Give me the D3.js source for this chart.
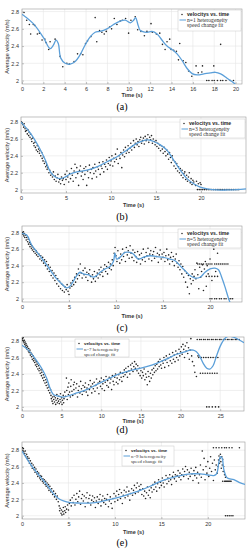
<!DOCTYPE html>
<html>
<head>
<meta charset="utf-8">
<script src="https://d3js.org/d3.v7.min.js"></script>
<style>
  body { margin: 0; background: #fff; }
</style>
</head>
<body>
<svg id="fig" width="251" height="550" font-family="Liberation Sans, Arial, sans-serif"></svg>
<script>
// ---- data ----
var captions = ["(a)", "(b)", "(c)", "(d)", "(e)"];
var fitNames = ["n=1 heterogeneity", "n=3 heterogeneity", "n=5 heterogeneity", "n=7 heterogeneity", "n=9 heterogeneity"];
var yTicks = [2, 2.2, 2.4, 2.6, 2.8];
var xTicksA = [0, 2, 4, 6, 8, 10, 12, 14, 16, 18, 20];
var xTicksB = [0, 5, 10, 15, 20];
var xTicksD = [0, 5, 10, 15, 20, 25];

var scatterA = [[0.19,2.79],[0.44,2.70],[0.69,2.65],[0.81,2.54],[1.06,2.65],[1.19,2.64],[1.44,2.54],[1.63,2.55],[1.88,2.47],[2.13,2.48],[2.25,2.44],[2.5,2.36],[2.63,2.45],[3.1,2.48],[3.57,2.28],[3.82,2.16],[4.2,2.20],[4.44,2.19],[4.88,2.22],[5.2,2.31],[5.5,2.31],[5.7,2.30],[5.95,2.43],[6.13,2.46],[6.45,2.51],[6.85,2.73],[7.0,2.45],[7.26,2.58],[7.48,2.56],[7.7,2.54],[7.89,2.57],[8.2,2.62],[8.39,2.60],[8.64,2.72],[8.89,2.65],[9.2,2.69],[9.39,2.70],[9.7,2.72],[9.98,2.55],[10.2,2.70],[10.6,2.74],[10.83,2.59],[11.14,2.57],[11.46,2.52],[11.7,2.57],[12.08,2.66],[12.2,2.56],[12.58,2.54],[12.9,2.55],[13.15,2.42],[13.4,2.36],[13.58,2.45],[13.83,2.48],[13.96,2.36],[14.2,2.35],[14.46,2.34],[14.65,2.24],[14.77,2.43],[15.09,2.23],[15.34,2.21],[15.6,2.11],[15.9,2.05],[16.3,2.17],[16.5,2.09],[16.84,2.10],[16.9,2.17],[17.96,2.17],[18.6,2.42]];
var rowsA = [{v: 2.0, t: [17.3,17.5,17.8,18.0,18.3,18.6,18.8,19.1,19.5,19.8]}];
var fitA = [[0,2.77],[1.06,2.66],[2.0,2.5],[2.63,2.37],[2.94,2.41],[3.19,2.47],[3.4,2.43],[3.63,2.26],[4.04,2.2],[4.5,2.19],[4.98,2.22],[5.45,2.30],[5.9,2.41],[6.4,2.51],[6.85,2.56],[7.3,2.57],[7.95,2.60],[8.58,2.65],[9.2,2.69],[9.67,2.70],[10.14,2.67],[10.45,2.70],[10.64,2.73],[10.83,2.66],[11.08,2.58],[11.7,2.56],[12.17,2.57],[12.65,2.54],[13.1,2.47],[13.58,2.40],[14.05,2.36],[14.52,2.31],[15.0,2.23],[15.46,2.14],[15.93,2.08],[16.4,2.065],[17.03,2.077],[17.65,2.09],[18.12,2.096],[18.6,2.077],[19.2,2.027],[19.78,1.977],[20.1,1.94]];

var scatterB = [[0.05,2.80],[0.12,2.79],[0.2,2.77],[0.3,2.74],[0.35,2.78],[0.45,2.72],[0.5,2.69],[0.6,2.70],[0.7,2.66],[0.75,2.71],[0.85,2.64],[0.9,2.68],[1.0,2.62],[1.05,2.66],[1.15,2.60],[1.2,2.57],[1.3,2.61],[1.4,2.55],[1.45,2.52],[1.55,2.56],[1.6,2.50],[1.7,2.47],[1.8,2.52],[1.85,2.45],[1.95,2.48],[2.05,2.43],[2.1,2.46],[2.2,2.40],[2.3,2.44],[2.35,2.37],[2.45,2.34],[2.5,2.39],[2.6,2.31],[2.7,2.33],[2.75,2.27],[2.85,2.29],[2.9,2.24],[3.0,2.26],[3.1,2.20],[3.2,2.23],[3.3,2.17],[3.4,2.19],[3.5,2.15],[3.6,2.21],[3.7,2.12],[3.8,2.16],[3.9,2.10],[4.0,2.14],[4.1,2.18],[4.2,2.09],[4.3,2.12],[4.4,2.07],[4.5,2.15],[4.6,2.11],[4.7,2.13],[4.8,2.06],[4.9,2.18],
[5.0,2.12],[5.1,2.22],[5.2,2.15],[5.3,2.09],[5.4,2.19],[5.5,2.13],[5.6,2.25],[5.7,2.17],[5.8,2.10],[5.9,2.22],[6.0,2.30],[6.1,2.14],[6.2,2.26],[6.3,2.19],[6.4,2.05],[6.5,2.23],[6.6,2.28],[6.7,2.16],[6.8,2.21],[6.9,2.12],[7.0,2.25],[7.1,2.18],[7.2,2.27],[7.3,2.05],[7.4,2.22],[7.5,2.14],[7.6,2.29],[7.7,2.20],[7.8,2.24],[7.9,2.13],[8.0,2.26],[8.1,2.19],[8.2,2.30],[8.3,2.22],[8.4,2.15],[8.5,2.27],[8.6,2.24],[8.7,2.32],[8.8,2.18],[8.9,2.28],[9.0,2.25],[9.1,2.33],[9.2,2.21],[9.3,2.30],[9.4,2.27],[9.5,2.35],[9.6,2.24],[9.7,2.31],[9.8,2.38],[9.9,2.29],
[10.0,2.34],[10.1,2.40],[10.2,2.28],[10.3,2.37],[10.4,2.33],[10.5,2.42],[10.6,2.36],[10.7,2.48],[10.8,2.31],[10.9,2.40],[11.0,2.37],[11.1,2.44],[11.2,2.26],[11.3,2.41],[11.4,2.47],[11.5,2.39],[11.6,2.50],[11.7,2.43],[11.8,2.46],[11.9,2.52],[12.0,2.44],[12.1,2.49],[12.2,2.55],[12.3,2.47],[12.4,2.52],[12.5,2.58],[12.6,2.50],[12.7,2.55],[12.8,2.60],[12.9,2.53],[13.0,2.57],[13.1,2.51],[13.2,2.59],[13.3,2.62],[13.4,2.55],[13.5,2.58],[13.6,2.61],[13.7,2.54],[13.8,2.63],[13.9,2.58],[14.0,2.60],[14.1,2.65],[14.2,2.56],[14.3,2.62],[14.4,2.59],[14.5,2.64],[14.6,2.55],[14.7,2.60],[14.8,2.57],[14.9,2.53],
[15.0,2.58],[15.1,2.51],[15.2,2.55],[15.3,2.49],[15.4,2.53],[15.5,2.46],[15.6,2.52],[15.7,2.48],[15.8,2.43],[15.9,2.50],[16.0,2.45],[16.1,2.40],[16.2,2.47],[16.3,2.42],[16.4,2.36],[16.5,2.44],[16.6,2.38],[16.7,2.32],[16.8,2.40],[16.9,2.35],[17.0,2.28],[17.1,2.33],[17.2,2.25],[17.3,2.31],[17.4,2.22],[17.5,2.27],[17.6,2.20],[17.7,2.25],[17.8,2.17],[17.9,2.23],[18.0,2.14],[18.1,2.19],[18.2,2.21],[18.3,2.12],[18.4,2.17],[18.5,2.10],[18.6,2.15],[18.7,2.20],[18.8,2.08],[18.9,2.13],[19.0,2.06],[19.1,2.11],[19.2,2.09],[19.4,2.05],[19.5,2.10],[19.7,2.07],[19.9,2.08],[20.0,2.06]];
var rowsB = [{v: 2.0, t: [19.6,19.8,20.0,20.2,20.4,20.6,20.8,21.0,21.2,21.4,21.6,21.8,22.0,22.2,22.4,22.6,22.8,23.0,23.2,23.4,23.6,23.8,24.0,24.2]}];
var fitB = [[0,2.8],[1.04,2.67],[1.96,2.51],[2.7,2.35],[3.26,2.21],[3.81,2.15],[4.37,2.13],[4.93,2.15],[5.48,2.185],[6.2,2.21],[7.33,2.23],[8.44,2.27],[9.56,2.33],[10.67,2.39],[11.78,2.47],[12.9,2.55],[14.0,2.59],[14.74,2.57],[15.48,2.53],[16.2,2.47],[16.96,2.35],[17.7,2.23],[18.44,2.13],[19.19,2.07],[19.9,2.03],[20.67,2.01],[21.8,1.996],[22.9,1.996],[24,2.0],[25,2.008]];

var scatterC = [[0.05,2.80],[0.1,2.78],[0.15,2.81],[0.2,2.76],[0.25,2.79],[0.3,2.74],[0.4,2.77],[0.45,2.71],[0.5,2.74],[0.6,2.69],[0.65,2.72],[0.7,2.66],[0.8,2.68],[0.85,2.63],[0.9,2.66],[1.0,2.61],[1.05,2.64],[1.1,2.59],[1.2,2.62],[1.25,2.57],[1.3,2.60],[1.4,2.55],[1.5,2.58],[1.55,2.53],[1.6,2.56],[1.7,2.51],[1.8,2.54],[1.9,2.48],[2.0,2.52],[2.1,2.46],[2.2,2.50],[2.3,2.43],[2.4,2.47],[2.5,2.40],[2.6,2.45],[2.7,2.36],[2.8,2.41],[2.9,2.33],[3.0,2.38],[3.1,2.28],[3.2,2.34],[3.3,2.25],[3.4,2.31],[3.5,2.22],[3.6,2.28],[3.7,2.18],[3.8,2.24],[3.9,2.15],[4.0,2.21],[4.1,2.12],[4.2,2.18],[4.3,2.10],[4.4,2.16],[4.5,2.08],[4.6,2.14],[4.7,2.11],[4.8,2.17],[4.9,2.09],[5.0,2.05],[5.1,2.13],[5.2,2.19],[5.3,2.15],[5.4,2.22],[5.5,2.17],[5.6,2.26],[5.7,2.20],[5.8,2.30],[5.9,2.24],[6.0,2.36],[6.1,2.28],[6.2,2.42],[6.3,2.31],[6.4,2.25],[6.5,2.34],[6.6,2.29],[6.7,2.37],[6.8,2.26],[6.9,2.32],[7.0,2.22],[7.1,2.30],[7.2,2.35],[7.3,2.27],[7.4,2.20],[7.5,2.29],[7.6,2.24],[7.7,2.33],[7.8,2.21],[7.9,2.27],[8.0,2.31],[8.1,2.25],[8.2,2.35],[8.3,2.29],[8.4,2.38],[8.5,2.32],[8.6,2.27],[8.7,2.36],[8.8,2.41],[8.9,2.33],[9.0,2.39],[9.1,2.30],[9.2,2.44],[9.3,2.37],[9.4,2.42],[9.5,2.35],[9.6,2.47],[9.7,2.40],[9.8,2.55],[9.9,2.62],
[10.0,2.52],[10.1,2.45],[10.2,2.58],[10.3,2.49],[10.4,2.43],[10.5,2.54],[10.6,2.47],[10.7,2.60],[10.8,2.51],[10.9,2.56],[11.0,2.45],[11.1,2.62],[11.2,2.53],[11.3,2.58],[11.4,2.49],[11.5,2.64],[11.6,2.55],[11.7,2.50],[11.8,2.59],[11.9,2.46],[12.0,2.56],[12.1,2.51],[12.2,2.44],[12.3,2.57],[12.4,2.48],[12.5,2.53],[12.6,2.42],[12.7,2.55],[12.8,2.47],[12.9,2.60],[13.0,2.50],[13.1,2.45],[13.2,2.56],[13.3,2.52],[13.4,2.61],[13.5,2.48],[13.6,2.54],[13.7,2.58],[13.8,2.46],[13.9,2.53],[14.0,2.57],[14.1,2.49],[14.2,2.62],[14.3,2.51],[14.4,2.55],[14.5,2.44],[14.6,2.53],[14.7,2.59],[14.8,2.48],[14.9,2.54],[15.0,2.50],[15.1,2.56],[15.2,2.45],[15.3,2.52],[15.4,2.60],[15.5,2.47],[15.6,2.53],[15.7,2.42],[15.8,2.50],[15.9,2.56],[16.0,2.45],[16.1,2.51],[16.2,2.40],[16.3,2.48],[16.4,2.54],[16.5,2.43],[16.6,2.38],[16.7,2.46],[16.8,2.35],[16.9,2.42],[17.0,2.30],[17.1,2.39],[17.2,2.26],[17.3,2.34],[17.4,2.20],[17.5,2.31],[17.6,2.14],[17.7,2.28],[17.8,2.06],[17.9,2.24],[18.0,2.18],[18.1,2.30],[18.2,2.22],[18.3,2.27],[18.4,2.35],[18.5,2.24],[18.6,2.43],[18.7,2.29],[18.8,2.12],[18.9,2.38],[19.0,2.26],[19.1,2.33],[19.2,2.41],[19.3,2.10],[19.4,2.36],[19.5,2.45],[19.6,2.15],[19.7,2.40],[19.8,2.30],[20.0,2.48],[20.2,2.22],[20.4,2.60],[20.6,2.33],[20.8,2.55]];
var rowsC = [
  {v: 2.42, t: [18.7,18.9,19.1,19.3,19.6,19.8,20.0,20.2,20.5,20.7,20.9,21.1,21.3,21.5,21.7,21.9]},
  {v: 2.27, t: [19.6,19.9,20.2,20.5,20.8]},
  {v: 2.0, t: [20.0,20.2,20.5,20.7,21.0,21.2,21.5,21.7,22.0,22.2,22.4]},
  {v: 2.83, t: [20.3,20.6,20.9,21.2,21.6,22.0,22.3]}
];
var fitC = [[0,2.79],[0.5,2.77],[1.03,2.65],[1.56,2.57],[2.09,2.49],[2.62,2.41],[3.16,2.32],[3.69,2.24],[4.22,2.18],[4.75,2.13],[5.1,2.15],[5.46,2.21],[5.82,2.28],[6.17,2.32],[6.52,2.30],[7.06,2.29],[7.59,2.26],[7.94,2.28],[8.3,2.32],[8.83,2.36],[9.36,2.39],[9.72,2.45],[9.89,2.55],[10.07,2.48],[10.4,2.50],[10.96,2.56],[11.5,2.56],[11.84,2.54],[12.38,2.48],[12.9,2.50],[13.6,2.52],[14.3,2.51],[15.04,2.50],[15.74,2.48],[16.28,2.46],[16.8,2.40],[17.34,2.34],[17.87,2.28],[18.4,2.25],[18.94,2.26],[19.47,2.32],[20.0,2.36],[20.53,2.37],[20.9,2.35],[21.24,2.26],[21.6,2.14],[21.95,2.01],[22.2,1.93]];

var scatterD = [[0.05,2.83],[0.1,2.81],[0.15,2.84],[0.2,2.80],[0.25,2.78],[0.3,2.81],[0.35,2.76],[0.4,2.79],[0.45,2.74],[0.5,2.77],[0.55,2.72],[0.6,2.75],[0.65,2.70],[0.7,2.73],[0.8,2.68],[0.85,2.71],[0.9,2.66],[1.0,2.69],[1.05,2.63],[1.1,2.66],[1.2,2.61],[1.25,2.64],[1.3,2.58],[1.4,2.62],[1.45,2.56],[1.5,2.59],[1.6,2.54],[1.65,2.57],[1.7,2.51],[1.8,2.55],[1.85,2.49],[1.9,2.52],[2.0,2.46],[2.1,2.50],[2.15,2.44],[2.2,2.47],[2.3,2.41],[2.4,2.45],[2.45,2.38],[2.5,2.42],[2.6,2.35],[2.7,2.39],[2.75,2.32],[2.8,2.36],[2.9,2.29],[3.0,2.33],[3.05,2.26],[3.1,2.30],[3.2,2.23],[3.3,2.27],[3.35,2.20],[3.4,2.24],[3.5,2.17],[3.6,2.21],[3.65,2.14],[3.7,2.10],[3.8,2.07],[3.85,2.12],[3.9,2.04],
[4.0,2.09],[4.05,2.13],[4.1,2.06],[4.2,2.11],[4.25,2.03],[4.3,2.08],[4.4,2.15],[4.45,2.05],[4.5,2.10],[4.6,2.07],[4.65,2.13],[4.7,2.04],[4.8,2.09],[4.85,2.16],[4.9,2.06],[5.0,2.11],[5.05,2.03],[5.1,2.08],[5.2,2.14],[5.25,2.05],[5.3,2.10],[5.4,2.18],
[5.5,2.13],[5.6,2.35],[5.65,2.20],[5.7,2.09],[5.8,2.24],[5.85,2.15],[5.9,2.29],[6.0,2.18],[6.1,2.12],[6.15,2.25],[6.2,2.33],[6.3,2.19],[6.4,2.14],[6.5,2.27],[6.55,2.21],[6.6,2.30],[6.7,2.16],[6.8,2.23],[6.9,2.28],[7.0,2.12],[7.1,2.20],[7.2,2.25],[7.3,2.17],[7.4,2.31],[7.5,2.22],[7.6,2.15],[7.7,2.26],[7.8,2.19],[7.9,2.24],[8.0,2.29],[8.1,2.18],[8.2,2.23],[8.3,2.14],[8.4,2.27],[8.5,2.21],[8.6,2.32],[8.7,2.25],[8.8,2.17],[8.9,2.28],
[9.0,2.22],[9.1,2.30],[9.2,2.19],[9.3,2.26],[9.4,2.34],[9.5,2.23],[9.6,2.29],[9.7,2.16],[9.8,2.31],[9.9,2.25],[10.0,2.35],[10.1,2.22],[10.2,2.28],[10.3,2.33],[10.4,2.20],[10.5,2.30],[10.6,2.37],[10.7,2.26],[10.8,2.32],[10.9,2.24],[11.0,2.36],[11.1,2.29],[11.2,2.34],[11.3,2.21],[11.4,2.38],[11.5,2.31],[11.6,2.27],[11.7,2.36],[11.8,2.40],[11.9,2.30],[12.0,2.35],[12.1,2.28],[12.2,2.39],[12.3,2.33],[12.4,2.42],[12.5,2.36],[12.6,2.31],[12.7,2.41],[12.8,2.37],[12.9,2.45],
[13.0,2.39],[13.1,2.47],[13.2,2.42],[13.3,2.36],[13.4,2.49],[13.5,2.44],[13.6,2.40],[13.7,2.51],[13.8,2.46],[13.9,2.53],[14.0,2.43],[14.1,2.49],[14.2,2.55],[14.3,2.47],[14.4,2.52],[14.5,2.44],[14.6,2.50],[14.7,2.41],[14.8,2.47],[14.9,2.38],
[15.0,2.44],[15.1,2.35],[15.2,2.42],[15.3,2.38],[15.4,2.46],[15.5,2.33],[15.6,2.40],[15.7,2.36],[15.8,2.27],[15.9,2.43],[16.0,2.37],[16.1,2.31],[16.2,2.41],[16.3,2.35],[16.4,2.45],[16.5,2.39],[16.6,2.47],[16.7,2.42],[16.8,2.50],[16.9,2.44],
[17.0,2.52],[17.1,2.46],[17.2,2.55],[17.3,2.49],[17.4,2.58],[17.5,2.51],[17.6,2.47],[17.7,2.56],[17.8,2.53],[17.9,2.60],[18.0,2.48],[18.1,2.57],[18.2,2.62],[18.3,2.54],[18.4,2.59],[18.5,2.50],[18.6,2.64],[18.7,2.56],[18.8,2.61],[18.9,2.53],[19.0,2.66],[19.1,2.58],[19.2,2.63],[19.3,2.55],[19.4,2.68],[19.5,2.60],[19.6,2.65],[19.7,2.57],[19.8,2.70],[19.9,2.62],
[20.0,2.67],[20.1,2.73],[20.2,2.64],[20.3,2.76],[20.4,2.70],[20.5,2.60],[20.6,2.74],[20.7,2.68],[20.8,2.78],[20.9,2.65],[21.0,2.72],[21.1,2.58],[21.2,2.69],[21.3,2.83],[21.4,2.62],[21.5,2.55],[21.7,2.50],[21.8,2.42],[22.0,2.37],[22.2,2.62]];
var rowsD = [
  {v: 2.82, t: [22.1,22.4,22.6,22.9,23.1,23.4,23.6,23.9,24.1,24.4,24.6,24.9,25.1,25.4,25.6,25.9,26.1,26.4,26.6,26.9,27.1,27.4]},
  {v: 2.6, t: [22.3,22.6,22.9,23.2,23.5,23.8,24.1,24.4,24.7]},
  {v: 2.41, t: [22.5,22.8,23.1,23.4,23.7,24.0,24.3,24.6]},
  {v: 2.0, t: [23.3,23.6,24.0,24.4,24.8]}
];
var fitD = [[0,2.75],[0.8,2.69],[1.64,2.59],[2.48,2.47],[3.1,2.35],[3.53,2.23],[3.95,2.15],[4.58,2.13],[5.2,2.12],[6.05,2.14],[6.9,2.17],[8.15,2.21],[9.4,2.27],[10.67,2.33],[11.93,2.39],[13.2,2.43],[14.45,2.46],[15.7,2.49],[16.97,2.53],[18.2,2.58],[19.5,2.64],[20.55,2.67],[21.2,2.69],[21.6,2.69],[22.0,2.67],[22.4,2.62],[22.86,2.53],[23.3,2.47],[23.7,2.46],[24.1,2.50],[24.5,2.61],[24.96,2.73],[25.4,2.81],[25.8,2.85],[26.2,2.86],[26.6,2.85],[27.3,2.82],[28,2.78]];

var scatterE = [[0.05,2.83],[0.1,2.80],[0.15,2.82],[0.2,2.78],[0.3,2.76],[0.35,2.79],[0.4,2.73],[0.5,2.75],[0.55,2.70],[0.6,2.72],[0.7,2.67],[0.75,2.70],[0.8,2.64],[0.9,2.67],[1.0,2.61],[1.05,2.64],[1.1,2.58],[1.2,2.62],[1.3,2.56],[1.35,2.59],[1.4,2.53],[1.5,2.57],[1.6,2.51],[1.65,2.54],[1.7,2.48],[1.8,2.52],[1.9,2.46],[1.95,2.49],[2.0,2.44],[2.1,2.48],[2.2,2.42],[2.25,2.45],[2.3,2.40],[2.4,2.44],[2.5,2.38],[2.55,2.42],[2.6,2.36],[2.7,2.40],[2.8,2.34],[2.85,2.38],[2.9,2.31],[3.0,2.36],[3.1,2.29],[3.2,2.33],[3.3,2.26],[3.4,2.30],
[3.5,2.23],[3.6,2.27],[3.7,2.20],[3.8,2.24],[3.9,2.17],[4.0,2.12],[4.05,2.06],[4.1,2.09],[4.2,2.03],[4.25,2.07],[4.3,2.01],[4.4,2.05],[4.45,2.10],[4.5,2.02],[4.6,2.06],[4.65,2.11],[4.7,2.04],[4.8,2.08],[4.9,2.13],[5.0,2.07],[5.1,2.15],
[5.2,2.19],[5.3,2.12],[5.4,2.22],[5.5,2.16],[5.6,2.25],[5.7,2.13],[5.8,2.20],[5.9,2.27],[6.0,2.17],[6.1,2.23],[6.2,2.30],[6.3,2.14],[6.4,2.21],[6.5,2.26],[6.6,2.18],[6.7,2.24],[6.8,2.11],[6.9,2.22],[7.0,2.28],[7.1,2.16],[7.2,2.21],[7.3,2.25],[7.4,2.13],[7.5,2.19],[7.6,2.24],[7.7,2.17],[7.8,2.22],[7.9,2.10],[8.0,2.18],[8.1,2.23],[8.2,2.15],[8.3,2.20],[8.4,2.26],[8.5,2.12],[8.6,2.19],[8.7,2.24],[8.8,2.16],[8.9,2.21],
[9.0,2.14],[9.1,2.20],[9.2,2.26],[9.3,2.11],[9.4,2.18],[9.5,2.23],[9.6,2.15],[9.7,2.09],[9.8,2.21],[9.9,2.27],[10.0,2.17],[10.1,2.24],[10.2,2.30],[10.3,2.19],[10.4,2.26],[10.5,2.32],[10.6,2.21],[10.7,2.28],[10.8,2.15],[10.9,2.25],[11.0,2.31],[11.1,2.22],[11.2,2.29],[11.3,2.35],[11.4,2.24],[11.5,2.30],[11.6,2.19],[11.7,2.27],[11.8,2.33],[11.9,2.25],
[12.0,2.31],[12.1,2.37],[12.2,2.27],[12.3,2.34],[12.4,2.40],[12.5,2.29],[12.6,2.36],[12.7,2.32],[12.8,2.38],[12.9,2.26],[13.0,2.33],[13.1,2.24],[13.2,2.30],[13.3,2.21],[13.4,2.28],[13.5,2.35],[13.6,2.25],[13.7,2.31],[13.8,2.22],[13.9,2.34],[14.0,2.29],[14.1,2.38],[14.2,2.32],[14.3,2.41],
[14.4,2.35],[14.5,2.30],[14.6,2.39],[14.7,2.44],[14.8,2.34],[14.9,2.41],[15.0,2.37],[15.1,2.46],[15.2,2.40],[15.3,2.35],[15.4,2.44],[15.5,2.49],[15.6,2.39],[15.7,2.46],[15.8,2.42],[15.9,2.50],[16.0,2.44],[16.1,2.38],[16.2,2.48],[16.3,2.53],[16.4,2.45],[16.5,2.50],[16.6,2.42],[16.7,2.49],[16.8,2.55],[16.9,2.47],
[17.0,2.52],[17.1,2.44],[17.2,2.50],[17.3,2.57],[17.4,2.48],[17.5,2.54],[17.6,2.60],[17.7,2.50],[17.8,2.56],[17.9,2.45],[18.0,2.53],[18.1,2.48],[18.2,2.58],[18.3,2.51],[18.4,2.43],[18.5,2.55],[18.6,2.49],[18.7,2.59],[18.8,2.46],[18.9,2.53],[19.0,2.40],[19.1,2.50],[19.2,2.62],[19.3,2.47],[19.4,2.79],[19.5,2.56],[19.6,2.70],[19.7,2.44],[19.8,2.60],[19.9,2.52],
[20.0,2.66],[20.1,2.48],[20.2,2.58],[20.3,2.72],[20.4,2.54],[20.5,2.64],[20.6,2.43],[20.7,2.68],[20.8,2.56],[20.9,2.62],[21.0,2.52],[21.1,2.60],[21.15,2.68],[21.2,2.73],[21.25,2.64],[21.3,2.70],[21.35,2.75],[21.4,2.66],[21.45,2.58],[21.5,2.72],[21.55,2.62],[21.6,2.69],[21.65,2.54],[21.7,2.60],[21.8,2.50],[21.9,2.47]];
var rowsE = [
  {v: 2.83, t: [20.6,20.9,21.2,21.5,21.8,22.0,22.3,22.6,23.4]},
  {v: 2.42, t: [21.6,21.8,21.9,22.0,22.1,22.2,22.3,22.4,22.5]},
  {v: 2.0, t: [21.9,22.1,22.3,22.5,22.7]}
];
var fitE = [[0,2.79],[0.5,2.70],[1.22,2.58],[1.94,2.48],[2.66,2.38],[3.38,2.27],[3.92,2.21],[4.46,2.18],[5.18,2.16],[6.26,2.155],[7.34,2.155],[8.4,2.17],[9.5,2.20],[10.58,2.23],[11.65,2.27],[12.73,2.31],[13.8,2.36],[14.9,2.42],[16.0,2.46],[17.05,2.49],[18.13,2.51],[19.2,2.51],[19.9,2.50],[20.65,2.49],[20.94,2.51],[21.2,2.66],[21.37,2.72],[21.55,2.70],[21.73,2.56],[22.1,2.46],[22.8,2.44],[23.5,2.40],[24.07,2.38]];

// ---- layout (pixel boxes of each subplot) ----
var layout = [
  {scatter: scatterA, rows: rowsA, fit: fitA, xTicks: xTicksA, xMax: 20.6, yDom: [1.96, 2.83], l: 22, t: 9, r: 242, b: 84, lg: [178, 10, 63, 21], lgFs: 1, timeY: 97, capY: 110},
  {scatter: scatterB, rows: rowsB, fit: fitB, xTicks: xTicksB, xMax: 25, yDom: [1.96, 2.86], l: 21, t: 117, r: 246, b: 193, lg: [180, 119, 65, 19], lgFs: 1, timeY: 207, capY: 219.5},
  {scatter: scatterC, rows: rowsC, fit: fitC, xTicks: xTicksB, xMax: 23.4, yDom: [1.96, 2.88], l: 22, t: 226, r: 242, b: 302, lg: [178, 229, 63, 19], lgFs: 1, timeY: 318, capY: 330.5},
  {scatter: scatterD, rows: rowsD, fit: fitD, xTicks: xTicksD, xMax: 28, yDom: [1.95, 2.85], l: 22, t: 337, r: 244, b: 411, lg: [75, 339, 54, 18], lgFs: 0.86, timeY: 423, capY: 432.5},
  {scatter: scatterE, rows: rowsE, fit: fitE, xTicks: xTicksB, xMax: 24, yDom: [1.96, 2.90], l: 22, t: 442, r: 245, b: 519, lg: [122, 446, 52, 20], lgFs: 0.86, timeY: 533.5, capY: 545.5}
];

var fitColor = "#5b9fd9";
var svg = d3.select("#fig");
svg.append("rect").attr("width", 251).attr("height", 550).attr("fill", "#fff");

layout.forEach(function (p, i) {
  var x = d3.scaleLinear().domain([0, p.xMax]).range([p.l, p.r]);
  var y = d3.scaleLinear().domain(p.yDom).range([p.b, p.t]);
  var g = svg.append("g");

  var clipId = "clip" + i;
  svg.append("clipPath").attr("id", clipId)
    .append("rect").attr("x", p.l).attr("y", p.t).attr("width", p.r - p.l).attr("height", p.b - p.t);

  // grid
  g.append("g").selectAll("line").data(p.xTicks).enter().append("line")
    .attr("x1", function (d) { return x(d); }).attr("x2", function (d) { return x(d); })
    .attr("y1", p.t).attr("y2", p.b).attr("stroke", "#e6e6e6").attr("stroke-width", 0.6);
  g.append("g").selectAll("line").data(yTicks).enter().append("line")
    .attr("y1", function (d) { return y(d); }).attr("y2", function (d) { return y(d); })
    .attr("x1", p.l).attr("x2", p.r).attr("stroke", "#e6e6e6").attr("stroke-width", 0.6);

  // box
  g.append("rect").attr("x", p.l).attr("y", p.t).attr("width", p.r - p.l).attr("height", p.b - p.t)
    .attr("fill", "none").attr("stroke", "#9a9a9a").attr("stroke-width", 0.6);

  // axes
  var xa = g.append("g").attr("transform", "translate(0," + p.b + ")")
    .call(d3.axisBottom(x).tickValues(p.xTicks).tickSizeInner(-2).tickSizeOuter(0).tickPadding(3).tickFormat(d3.format("d")));
  var ya = g.append("g").attr("transform", "translate(" + p.l + ",0)")
    .call(d3.axisLeft(y).tickValues(yTicks).tickSizeInner(-2).tickSizeOuter(0).tickPadding(3).tickFormat(function (d) { return String(d); }));
  [xa, ya].forEach(function (a) {
    a.attr("font-family", null);
    a.select(".domain").remove();
    a.selectAll(".tick line").attr("stroke", "#9a9a9a").attr("stroke-width", 0.6);
    a.selectAll(".tick text").attr("font-size", 5.5).attr("fill", "#333");
  });

  // scatter points
  var pts = p.scatter.slice();
  p.rows.forEach(function (row) {
    row.t.forEach(function (t) { pts.push([t, row.v]); });
  });
  g.append("g").attr("clip-path", "url(#" + clipId + ")")
    .selectAll("circle").data(pts).enter().append("circle")
    .attr("cx", function (d) { return x(d[0]); })
    .attr("cy", function (d) { return y(d[1]); })
    .attr("r", 0.8).attr("fill", "#222");

  // fit curve
  var line = d3.line().x(function (d) { return x(d[0]); }).y(function (d) { return y(d[1]); })
    .curve(d3.curveCatmullRom.alpha(0.5));
  g.append("path").attr("clip-path", "url(#" + clipId + ")")
    .datum(p.fit).attr("d", line).attr("fill", "none")
    .attr("stroke", fitColor).attr("stroke-width", 1.3);

  // labels
  g.append("text").attr("transform", "translate(9," + ((p.t + p.b) / 2) + ") rotate(-90)")
    .attr("text-anchor", "middle").attr("font-size", 5.5).attr("fill", "#333")
    .text("Average velocity (m/s)");
  g.append("text").attr("x", (p.l + p.r) / 2).attr("y", p.timeY)
    .attr("text-anchor", "middle").attr("font-size", 5.5).attr("font-weight", "bold").attr("fill", "#333")
    .text("Time (s)");
  g.append("text").attr("x", 122).attr("y", p.capY)
    .attr("text-anchor", "middle").attr("font-size", 10).attr("font-family", "Liberation Serif, serif").attr("fill", "#000")
    .text(captions[i]);

  // legend
  var lx = p.lg[0], ly = p.lg[1], lw = p.lg[2], lh = p.lg[3], s = p.lgFs;
  var lgG = g.append("g");
  lgG.append("rect").attr("x", lx).attr("y", ly).attr("width", lw).attr("height", lh)
    .attr("fill", "#fff").attr("stroke", "#c8c8c8").attr("stroke-width", 0.5);
  lgG.append("circle").attr("cx", lx + 4).attr("cy", ly + 4.5).attr("r", 0.75).attr("fill", "#222");
  lgG.append("text").attr("x", lx + 9).attr("y", ly + 6.3).attr("font-size", 5.1 * s).attr("font-weight", "bold").attr("fill", "#222")
    .text("velocitys vs. time");
  lgG.append("line").attr("x1", lx + 1.5).attr("x2", lx + 8).attr("y1", ly + 10).attr("y2", ly + 10)
    .attr("stroke", fitColor).attr("stroke-width", 1);
  lgG.append("text").attr("x", lx + 9).attr("y", ly + 11.8).attr("font-size", 5.6 * s).attr("font-family", "Liberation Serif, serif").attr("fill", "#333")
    .text(fitNames[i]);
  lgG.append("text").attr("x", lx + 9).attr("y", ly + 17).attr("font-size", 5.6 * s).attr("font-family", "Liberation Serif, serif").attr("fill", "#333")
    .text("speed change fit");
});
</script>
</body>
</html>
